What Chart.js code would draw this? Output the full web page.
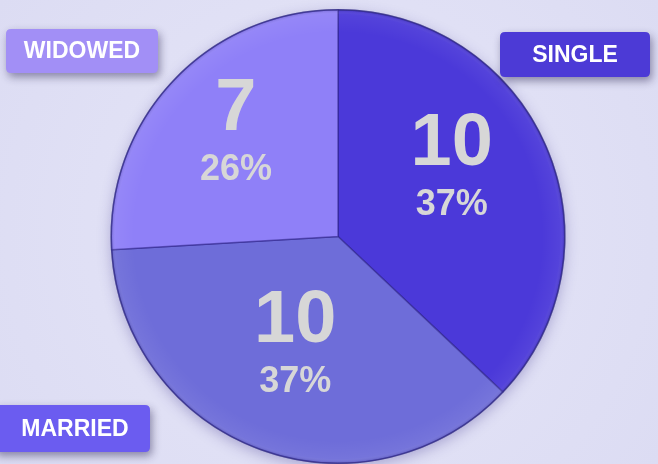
<!DOCTYPE html>
<html>
<head>
    <title>Marital Status</title>
    <script src="https://cdn.jsdelivr.net/npm/chart.js"></script>
    <style>
        html, body {
            margin: 0;
            padding: 0;
            background: #dedef5;
            overflow: hidden;
        }
        #wrap {
            width: 658px;
            height: 464px;
            position: relative;
            background: radial-gradient(circle at 50% 50%, #e6e6f8 0%, #dcdcf3 100%);
        }
    </style>
</head>
<body>
    <div id="wrap"><canvas id="pieChart" width="658" height="464"></canvas></div>

    <script>
        // data
        const categories = ['SINGLE', 'MARRIED', 'WIDOWED'];
        const counts = [10, 10, 7];
        const percentLabels = ['37%', '37%', '26%'];

        const sliceColors = ['#4b39d9', '#6e6dd9', '#8f80f8'];
        const tagColors = ['#4c3ad6', '#6b5cf0', '#a28ff6'];

        // name tags sit in the corners, like a little legend
        const tagBoxes = [
            { x: 500, y: 32, w: 150, h: 45 },
            { x: -6, y: 405, w: 156, h: 47 },
            { x: 6, y: 29, w: 152, h: 44 }
        ];

        // value label placement inside each slice (fraction of radius, angle tweak in degrees)
        const labelRadius = [0.574, 0.534, 0.625];
        const labelAngleShift = [-5.8, 0.7, 0.6];

        function roundRect(ctx, x, y, w, h, r) {
            ctx.beginPath();
            ctx.moveTo(x + r, y);
            ctx.lineTo(x + w - r, y);
            ctx.quadraticCurveTo(x + w, y, x + w, y + r);
            ctx.lineTo(x + w, y + h - r);
            ctx.quadraticCurveTo(x + w, y + h, x + w - r, y + h);
            ctx.lineTo(x + r, y + h);
            ctx.quadraticCurveTo(x, y + h, x, y + h - r);
            ctx.lineTo(x, y + r);
            ctx.quadraticCurveTo(x, y, x + r, y);
            ctx.closePath();
        }

        const pieDecor = {
            id: 'pieDecor',
            beforeDatasetsDraw(chart) {
                const arc = chart.getDatasetMeta(0).data[0];
                if (!arc) return;
                const ctx = chart.ctx;
                ctx.save();
                ctx.shadowColor = 'rgba(60, 50, 140, 0.35)';
                ctx.shadowBlur = 14;
                ctx.shadowOffsetY = 4;
                ctx.fillStyle = '#6e6dd9';
                ctx.beginPath();
                ctx.arc(arc.x, arc.y, arc.outerRadius, 0, Math.PI * 2);
                ctx.fill();
                ctx.restore();
            },
            afterDatasetsDraw(chart) {
                const meta = chart.getDatasetMeta(0);
                const ctx = chart.ctx;
                const first = meta.data[0];

                // soft bevel on the rim
                ctx.save();
                const g = ctx.createRadialGradient(first.x, first.y, first.outerRadius * 0.9, first.x, first.y, first.outerRadius);
                g.addColorStop(0, 'rgba(255,255,255,0)');
                g.addColorStop(0.8, 'rgba(255,255,255,0.05)');
                g.addColorStop(1, 'rgba(40,30,120,0.25)');
                ctx.fillStyle = g;
                ctx.beginPath();
                ctx.arc(first.x, first.y, first.outerRadius, 0, Math.PI * 2);
                ctx.fill();
                ctx.strokeStyle = 'rgba(50, 45, 130, 0.55)';
                ctx.lineWidth = 1.5;
                ctx.stroke();
                ctx.restore();

                // value + percent in each slice
                ctx.save();
                ctx.fillStyle = '#d7d7d7';
                ctx.textAlign = 'center';
                ctx.textBaseline = 'alphabetic';
                meta.data.forEach((a, i) => {
                    const mid = (a.startAngle + a.endAngle) / 2 + labelAngleShift[i] * Math.PI / 180;
                    const r = a.outerRadius * labelRadius[i];
                    const px = a.x + Math.cos(mid) * r;
                    const py = a.y + Math.sin(mid) * r;
                    ctx.font = 'bold 74px "Liberation Sans", Arial, sans-serif';
                    ctx.fillText(String(counts[i]), px, py - 8);
                    ctx.font = 'bold 36px "Liberation Sans", Arial, sans-serif';
                    ctx.fillText(percentLabels[i], px, py + 42);
                });
                ctx.restore();

                // category tags
                tagBoxes.forEach((b, i) => {
                    ctx.save();
                    ctx.shadowColor = 'rgba(30, 25, 70, 0.45)';
                    ctx.shadowBlur = 8;
                    ctx.shadowOffsetX = 2;
                    ctx.shadowOffsetY = 4;
                    ctx.fillStyle = tagColors[i];
                    roundRect(ctx, b.x, b.y, b.w, b.h, 5);
                    ctx.fill();
                    ctx.restore();
                    ctx.save();
                    ctx.fillStyle = '#ffffff';
                    ctx.font = 'bold 23px "Liberation Sans", Arial, sans-serif';
                    ctx.textAlign = 'center';
                    ctx.textBaseline = 'middle';
                    ctx.fillText(categories[i], b.x + b.w / 2 + (i === 1 ? 3 : 0), b.y + b.h / 2 + 1);
                    ctx.restore();
                });
            }
        };

        const ctx = document.getElementById('pieChart').getContext('2d');
        const chart = new Chart(ctx, {
            type: 'pie',
            data: {
                labels: categories,
                datasets: [{
                    data: counts,
                    backgroundColor: sliceColors,
                    borderColor: 'rgba(45, 35, 135, 0.55)',
                    borderWidth: 1.5
                }]
            },
            options: {
                responsive: false,
                animation: false,
                layout: {
                    padding: { top: 9, bottom: 0, left: 18, right: 0 }
                },
                plugins: {
                    legend: { display: false },
                    tooltip: { enabled: false }
                }
            },
            plugins: [pieDecor]
        });
    </script>
</body>
</html>
